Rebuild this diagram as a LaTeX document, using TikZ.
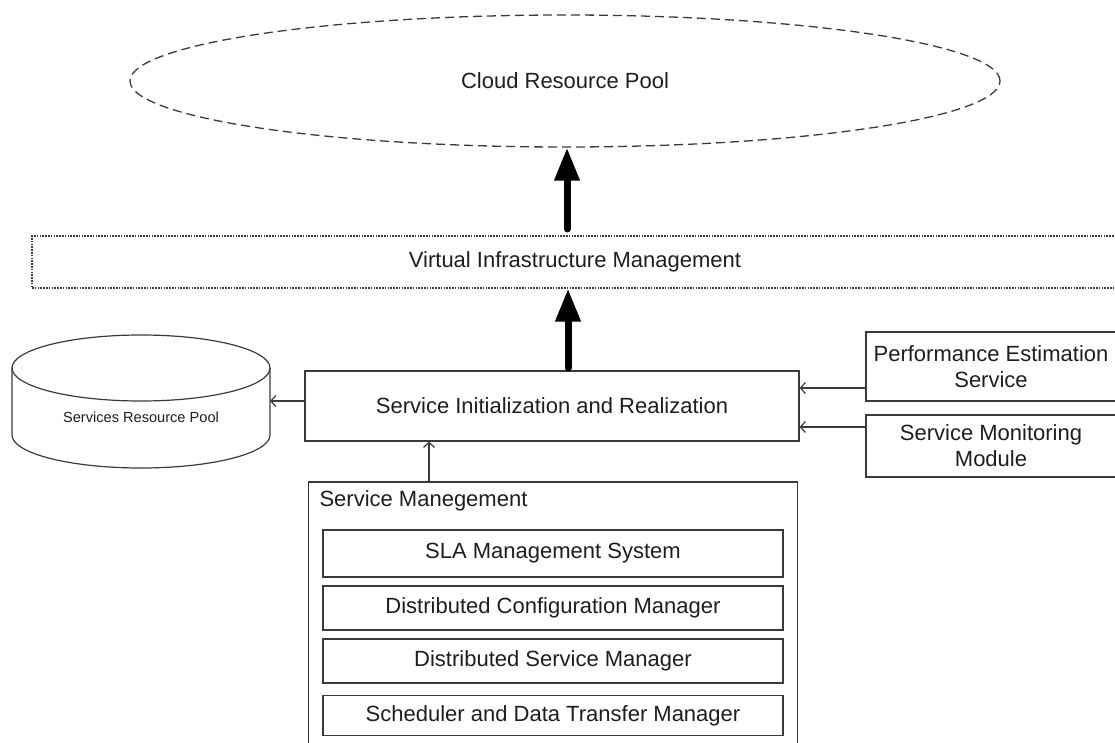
\documentclass[tikz,border=0pt]{standalone}
\usepackage{fontspec}
\setmainfont{Liberation Sans}
\usetikzlibrary{shapes.geometric,arrows.meta,calc}

\definecolor{edge}{HTML}{3A3A3A}
\definecolor{ink}{HTML}{1E1E1E}

\tikzset{
  x=1pt, y=-1pt,
  every node/.style={text=ink, font=\fontsize{22}{26}\selectfont},
  plainbox/.style={draw=edge, line width=1.2pt, rectangle, inner sep=0pt, align=center},
  bigarrow/.style={line width=7pt, line cap=round, draw=black,
    -{Triangle[length=33pt, width=24pt]}},
  smallarrow/.style={draw=edge, line width=1.2pt,
    -{Straight Barb[length=5pt, width=11pt]}},
}

\begin{document}
\begin{tikzpicture}
  \useasboundingbox (0,0) rectangle (1115,743);

  % cloud resource pool
  \node[ellipse, draw=edge, line width=1.3pt, dash pattern=on 9pt off 5pt,
        minimum width=870pt, minimum height=132pt, inner sep=0pt]
        (cloud) at (565,81) {Cloud Resource Pool};

  % virtual infrastructure management layer
  \node[draw=edge, line width=1.2pt, dash pattern=on 1.6pt off 1.2pt,
        minimum width=1086pt, minimum height=52pt, inner sep=0pt]
        (vim) at (575,262) {Virtual Infrastructure Management};

  % service initialization and realization
  \node[plainbox, minimum width=494pt, minimum height=70pt]
        (sir) at (552,406) {Service Initialization and Realization};

  % services resource pool (cylinder)
  \node[minimum width=258pt, minimum height=132pt, inner sep=0pt,
        font=\fontsize{14.6}{17}\selectfont]
        (pool) at (141,417) {Services Resource Pool};
  \coordinate (poolin) at (270,401);
  \begin{scope}[draw=edge, line width=1.2pt]
    \draw (141,368) ellipse [x radius=129, y radius=33];
    \draw (12,368) -- (12,435) arc [start angle=180, end angle=360,
          x radius=129, y radius=-33] -- (270,368);
  \end{scope}

  % estimation and monitoring services
  \node[plainbox, minimum width=250pt, minimum height=69pt]
        (pes) at (991,366.5) {Performance Estimation\\Service};
  \node[plainbox, minimum width=250pt, minimum height=62pt]
        (smm) at (991,446) {Service Monitoring\\Module};

  % service management container
  \node[plainbox, minimum width=489pt, minimum height=290pt]
        (sm) at (553,627) {};
  \node[anchor=west] (smlabel) at (316,501) {Service Manegement};
  \node[plainbox, minimum width=460pt, minimum height=47pt]
        (sla) at (553,553.5) {SLA Management System};
  \node[plainbox, minimum width=460pt, minimum height=44pt]
        (dcm) at (553,608) {Distributed Configuration Manager};
  \node[plainbox, minimum width=460pt, minimum height=44pt]
        (dsm) at (553,661) {Distributed Service Manager};
  \node[plainbox, minimum width=460pt, minimum height=40pt]
        (sdt) at (553,715.5) {Scheduler and Data Transfer Manager};

  % connectors
  \draw[bigarrow] (567,229) -- (cloud.south -| 567,0);
  \draw[bigarrow] (568,368) -- (vim.south -| 568,0);

  \draw[smallarrow] (sir.west |- poolin) -- (poolin);
  \draw[smallarrow] (pes.west |- 0,388) -- (sir.east |- 0,388);
  \draw[smallarrow] (smm.west |- 0,427) -- (sir.east |- 0,427);
  \coordinate (smtop) at (429,482);
  \draw[smallarrow] (smtop) -- (smtop |- sir.south);
\end{tikzpicture}
\end{document}
